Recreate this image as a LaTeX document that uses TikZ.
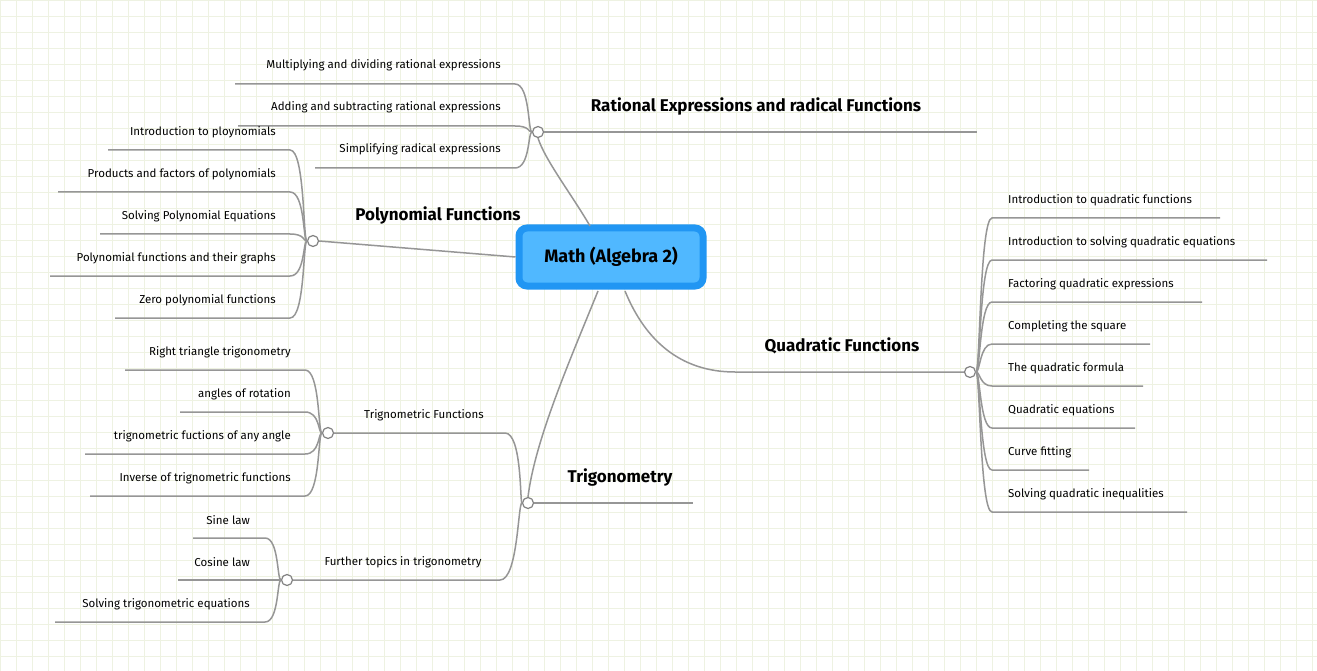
\documentclass[tikz,border=0pt]{standalone}
\usepackage{fontspec}
\setmainfont{Fira Sans}
\begin{document}
\begin{tikzpicture}[x=1pt,y=-1pt,
  ln/.style={draw={rgb,255:red,150;green,150;blue,150},line width=1.5pt},
  hub/.style={circle,draw={rgb,255:red,130;green,130;blue,130},fill=white,line width=1.2pt,inner sep=0pt,minimum size=11pt},
  lab/.style={inner sep=0pt,font=\fontsize{11.5}{13}\selectfont},
  big/.style={inner sep=0pt,font=\fontsize{17}{19}\selectfont\bfseries}]
\definecolor{gridc}{RGB}{238,242,226}
\definecolor{outb}{RGB}{33,150,243}
\definecolor{inb}{RGB}{80,184,255}
\useasboundingbox (0,0) rectangle (1317,671);
\fill[white] (0,0) rectangle (1317,671);
\foreach \i in {0,16,...,1317} \draw[gridc,line width=0.8pt] (\i,0) -- (\i,671);
\foreach \j in {0,16,...,671} \draw[gridc,line width=0.8pt] (0,\j) -- (1317,\j);
% center
\node[draw=outb,line width=7pt,fill=inb,rounded corners=8pt,minimum width=184pt,minimum height=58pt,font=\fontsize{18}{20}\selectfont\bfseries] (c) at (611,257) {Math (Algebra 2)};
% hubs
\node[hub] (hr) at (538,132) {};
\node[hub] (hp) at (313,241) {};
\node[hub] (hq) at (970,372) {};
\node[hub] (ht) at (528,503) {};
\node[hub] (htf) at (328,433) {};
\node[hub] (hft) at (287,580) {};
% main branches
\coordinate (er) at (977,132);
\coordinate (eq) at (735,372);
\coordinate (et) at (693,503);
\coordinate (etf) at (505,433);
\coordinate (eft) at (500,580);
\begin{scope}[on background layer/.style={}]
\draw[ln] (590,226) .. controls (572,195) and (545,160) .. (hr.south);
\draw[ln] (hr.east) -- (er);
\node[big] (lr) at (756,106) {Rational Expressions and radical Functions};
\draw[ln] (hp.east) -- (c.west);
\node[big] (lp) at (438,215) {Polynomial Functions};
\draw[ln] (625,291) .. controls (645,340) and (680,372) .. (eq) -- (hq.west);
\node[big] (lq) at (842,346) {Quadratic Functions};
\draw[ln] (598,291) .. controls (570,360) and (535,440) .. (ht.north);
\draw[ln] (ht.east) -- (et);
\node[big] (lt) at (620,477) {Trigonometry};
\draw[ln] (htf.east) -- (etf) .. controls (522,433) and (520,503) .. (ht.west);
\node[lab] (ltf) at (424,415) {Trignometric Functions};
\draw[ln] (hft.east) -- (eft) .. controls (518,580) and (518,503) .. (ht.west);
\node[lab] (lft) at (403,562) {Further topics in trigonometry};
\end{scope}
% left children: {label y}/{line start x}/{text}
\foreach \y/\xs/\t [count=\k] in {65/235/Multiplying and dividing rational expressions,107/238/Adding and subtracting rational expressions,149/315/Simplifying radical expressions}{
  \node[lab,anchor=east] (r\k) at (501,\y) {\t};
  \coordinate (rs\k) at (\xs,\y+19);
  \coordinate (re\k) at (515,\y+19);
  \draw[ln] (rs\k) -- (re\k) .. controls (530,\y+19) and (528,132) .. (hr.west);
}
\foreach \y/\xs/\t [count=\k] in {132/108/Introduction to ploynomials,174/58/Products and factors of polynomials,216/100/Solving Polynomial Equations,258/50/Polynomial functions and their graphs,300/115/Zero polynomial functions}{
  \node[lab,anchor=east] (p\k) at (276,\y) {\t};
  \coordinate (ps\k) at (\xs,\y+18);
  \coordinate (pe\k) at (290,\y+18);
  \draw[ln] (ps\k) -- (pe\k) .. controls (305,\y+18) and (303,241) .. (hp.west);
}
\foreach \y/\xs/\t [count=\k] in {352/125/Right triangle trigonometry,394/180/angles of rotation,436/85/trignometric fuctions of any angle,478/90/Inverse of trignometric functions}{
  \node[lab,anchor=east] (t\k) at (291,\y) {\t};
  \coordinate (ts\k) at (\xs,\y+18);
  \coordinate (te\k) at (305,\y+18);
  \draw[ln] (ts\k) -- (te\k) .. controls (320,\y+18) and (318,433) .. (htf.west);
}
\foreach \y/\xs/\t [count=\k] in {520/193/Sine law,562/178/Cosine law,604/55/Solving trigonometric equations}{
  \node[lab,anchor=east] (f\k) at (250,\y) {\t};
  \coordinate (fs\k) at (\xs,\y+18);
  \coordinate (fe\k) at (265,\y+18);
  \draw[ln] (fs\k) -- (fe\k) .. controls (279,\y+18) and (277,580) .. (hft.west);
}
\foreach \y/\xe/\t [count=\k] in {200/1220/Introduction to quadratic functions,242/1267/Introduction to solving quadratic equations,284/1202/Factoring quadratic expressions,326/1150/Completing the square,368/1143/The quadratic formula,410/1135/Quadratic equations,452/1089/Curve fitting,494/1187/Solving quadratic inequalities}{
  \node[lab,anchor=west] (q\k) at (1008,\y) {\t};
  \coordinate (qs\k) at (992,\y+18);
  \coordinate (qe\k) at (\xe,\y+18);
  \draw[ln] (qe\k) -- (qs\k) .. controls (980,\y+18) and (980,372) .. (hq.east);
}
\end{tikzpicture}
\end{document}
